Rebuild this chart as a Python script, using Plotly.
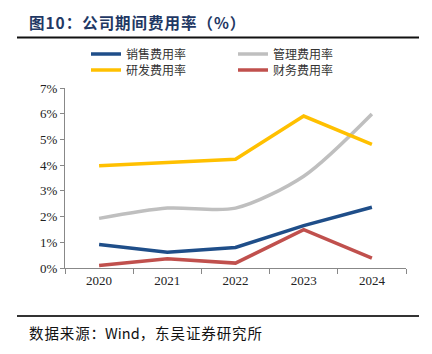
import plotly.graph_objects as go

years = ["2020", "2021", "2022", "2023", "2024"]
sales = [0.91, 0.61, 0.80, 1.65, 2.36]
admin = [1.93, 2.33, 2.33, 3.57, 5.99]
rnd = [3.98, 4.12, 4.23, 5.91, 4.81]
fin = [0.10, 0.36, 0.19, 1.49, 0.38]
yticks = [0, 1, 2, 3, 4, 5, 6, 7]
ytext = [f"{v}%" for v in yticks]

serif = "Liberation Serif, Times New Roman, serif"
cjk = "Noto Sans CJK SC, sans-serif"

W, H = 432, 354
L, R, T, B = 65, 26, 88, 86
pw, ph = W - L - R, H - T - B
def px(pix):
    return (pix - L) / pw
def py(pix):
    return (H - B - pix) / ph

def spaced(s):
    return "\u200a".join(s)

fig = go.Figure()
fig.add_trace(go.Scatter(x=years, y=sales, mode="lines", name="销售费用率", legend="legend",
                         line=dict(color="#1F4E89", width=3.5)))
fig.add_trace(go.Scatter(x=years, y=admin, mode="lines", name="管理费用率", legend="legend",
                         line=dict(color="#BFBFBF", width=3.5, shape="spline", smoothing=0.8)))
fig.add_trace(go.Scatter(x=years, y=rnd, mode="lines", name="研发费用率", legend="legend2",
                         line=dict(color="#FFC000", width=3.5)))
fig.add_trace(go.Scatter(x=years, y=fin, mode="lines", name="财务费用率", legend="legend2",
                         line=dict(color="#C0504D", width=3.5)))

leg = dict(orientation="h", xanchor="left", yanchor="middle",
           entrywidth=102, entrywidthmode="pixels", itemwidth=30,
           font=dict(family=cjk, size=12, color="#333"),
           bgcolor="rgba(0,0,0,0)", borderwidth=0)

fig.update_layout(
    width=W, height=H,
    margin=dict(l=L, r=R, t=T, b=B),
    paper_bgcolor="white", plot_bgcolor="white",
    showlegend=True,
    legend=dict(leg, x=px(86), y=py(54)),
    legend2=dict(leg, x=px(86), y=py(70)),
    xaxis=dict(type="category", tickson="boundaries", ticks="outside", ticklen=5,
               tickcolor="#888", showline=True, linecolor="#888", linewidth=1,
               showgrid=False, tickfont=dict(family=serif, size=13, color="#222"),
               range=[-0.5, 4.5]),
    yaxis=dict(range=[0, 7], tickvals=yticks, ticktext=ytext, ticks="outside", ticklen=4,
               tickcolor="#888", showline=True, linecolor="#888", linewidth=1,
               showgrid=False, zeroline=False,
               tickfont=dict(family=serif, size=13, color="#222")),
    font=dict(family=serif),
)

fig.add_annotation(text="<b>" + spaced("图10：公司期间费用率（%）") + "</b>",
                   xref="paper", yref="paper", x=px(27), y=py(22),
                   xanchor="left", yanchor="middle", showarrow=False,
                   font=dict(family=cjk, size=15.5, color="#1F3864"))
fig.add_annotation(text=spaced("数据来源：") + "Wind" + spaced("，东吴证券研究所"),
                   xref="paper", yref="paper", x=px(27), y=py(332),
                   xanchor="left", yanchor="middle", showarrow=False,
                   font=dict(family=cjk, size=14.5, color="#111"))

fig.add_shape(type="line", xref="paper", yref="paper", x0=px(17), x1=px(419),
              y0=py(37.5), y1=py(37.5), line=dict(color="#111", width=2))
fig.add_shape(type="line", xref="paper", yref="paper", x0=px(17), x1=px(419),
              y0=py(316), y1=py(316), line=dict(color="#333", width=2))

fig.write_html("out.html")
